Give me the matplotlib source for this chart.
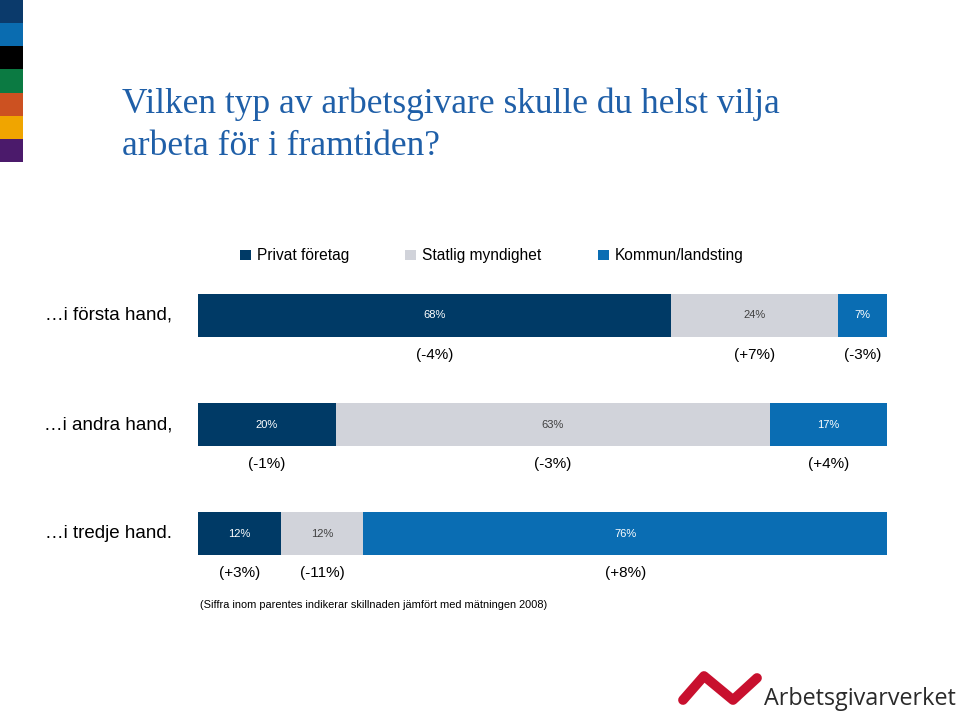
import numpy as np
import matplotlib.pyplot as plt
from matplotlib.transforms import blended_transform_factory

# data
rows = ['\u2026i första hand,', '\u2026i andra hand,', '\u2026i tredje hand.']
series = ['Privat företag', 'Statlig myndighet', 'Kommun/landsting']
privat = [68, 20, 12]
statlig = [24, 63, 12]
kommun = [7, 17, 76]
changes = [['(-4%)', '(+7%)', '(-3%)'],
           ['(-1%)', '(-3%)', '(+4%)'],
           ['(+3%)', '(-11%)', '(+8%)']]

colors = ['#003a66', '#d1d3da', '#0a6db3']
text_colors = ['white', '#404040', 'white']

W, H = 960, 719
fig = plt.figure(figsize=(9.6, 7.19), dpi=100)
plt.rcParams['font.family'] = ['Liberation Sans', 'DejaVu Sans']

# colored strip at top left
strip = ['#0b3a6b', '#0a6cb0', '#000000', '#0b7a42', '#cc5121', '#f0a500', '#4b1a6b']
sax = fig.add_axes([0, 1 - 162 / H, 23 / W, 162 / H])
for i, c in enumerate(strip):
    sax.barh(i, 1, height=1, left=0, color=c)
sax.set_xlim(0, 1)
sax.set_ylim(len(strip) - 0.5, -0.5)
sax.axis('off')

# title
fig.text(122 / W, 1 - 113 / H, 'Vilken typ av arbetsgivare skulle du helst vilja',
         family='Liberation Serif', fontsize=25.5, color='#1f5fa8')
fig.text(122 / W, 1 - 155 / H, 'arbeta för i framtiden?',
         family='Liberation Serif', fontsize=25.5, color='#1f5fa8')

# main bars
top_px, bot_px = 250, 599
ax = fig.add_axes([198 / W, 1 - bot_px / H, 689 / W, (bot_px - top_px) / H])
data = np.array([privat, statlig, kommun], dtype=float).T
shares = data / data.sum(axis=1, keepdims=True) * 100
y = np.arange(len(rows))
left = np.zeros(len(rows))
handles = []
for j in range(3):
    b = ax.barh(y, shares[:, j], left=left, height=0.395, color=colors[j],
                label=series[j])
    handles.append(b)
    for i in range(len(rows)):
        cx = left[i] + shares[i, j] / 2
        ax.text(cx, y[i], '%d%%' % data[i, j], ha='center', va='center',
                fontsize=8, color=text_colors[j])
        ax.text(cx, y[i] + 0.36, changes[i][j], ha='center', va='center',
                fontsize=11, color='black')
    left += shares[:, j]

ax.set_xlim(0, 100)
ax.set_ylim(2.6, -0.6)
ax.axis('off')

tr = blended_transform_factory(ax.transAxes, ax.transData)
for i, r in enumerate(rows):
    ax.text(-26 / 689, y[i], r, ha='right', va='center', fontsize=13.5,
            transform=tr)

fig.legend(handles, series, loc='center left', ncol=3,
           bbox_to_anchor=(240 / W, 1 - 256 / H), frameon=False,
           fontsize=11.2, handlelength=0.7, handleheight=0.7,
           handletextpad=0.4, columnspacing=3.6, borderaxespad=0,
           borderpad=0)

fig.text(200 / W, 1 - 605 / H,
         '(Siffra inom parentes indikerar skillnaden jämfört med mätningen 2008)',
         fontsize=7.95, va='center')

# logo
lax = fig.add_axes([0, 0, 1, 1], facecolor='none')
lax.set_xlim(0, W)
lax.set_ylim(H, 0)
lax.axis('off')
lax.plot([683, 704, 733, 757], [700, 676, 700, 678], color='#c8102e',
         lw=7, solid_capstyle='round', solid_joinstyle='round')
lax.text(764, 699, 'Arbetsgivarverket', fontsize=16.8, color='#2a2a2a',
         va='center', ha='left', family=['Open Sans', 'DejaVu Sans'])

fig.savefig('out.png', dpi=100)
